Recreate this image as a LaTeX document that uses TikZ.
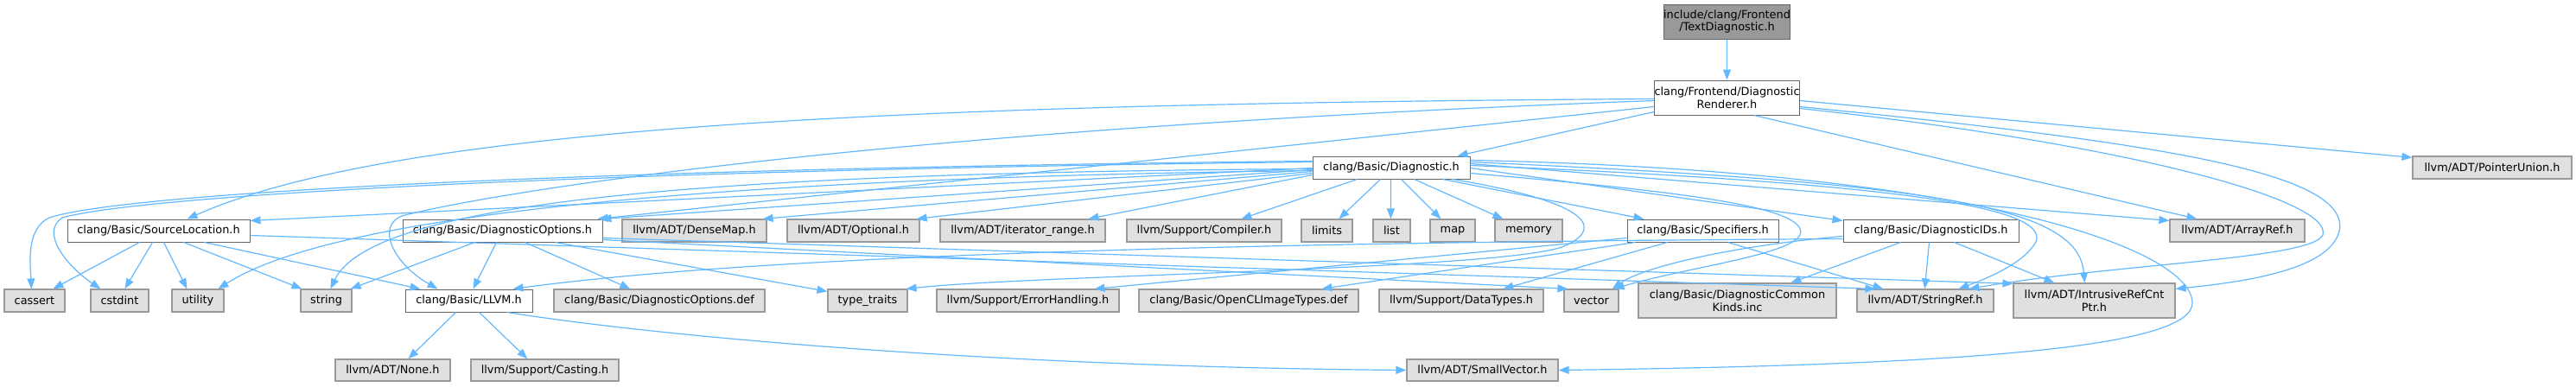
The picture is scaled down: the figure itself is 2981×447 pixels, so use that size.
\documentclass[tikz,border=0pt]{standalone}
\usepackage{fontspec}
\setmainfont{DejaVu Sans}
\usetikzlibrary{arrows.meta}
\definecolor{edgec}{HTML}{63B8FF}
\definecolor{boxg}{HTML}{E0E0E0}
\definecolor{bordg}{HTML}{999999}
\definecolor{bordd}{HTML}{666666}
\definecolor{topf}{HTML}{999999}
\tikzset{
 base/.style={rectangle, inner sep=0pt, line width=1pt, font=\fontsize{12.85}{14.7}\selectfont, align=center, text=black},
 ext/.style={base, draw=bordg, fill=boxg, line width=1.2pt},
 hdr/.style={base, draw=bordd, fill=white},
 topn/.style={base, draw=bordd, fill=topf},
 edge/.style={draw=edgec, line width=1.2pt, -{Triangle[length=12pt,width=9pt]}},
}
\newcommand\nd[7]{%
 \pgfmathsetmacro\ndw{#5-#3}\pgfmathsetmacro\ndh{#6-#4}%
 \pgfmathsetmacro\ndx{(#3+#5)/2}\pgfmathsetmacro\ndy{(#4+#6)/2}%
 \node[#2,minimum width=\ndw pt,minimum height=\ndh pt] (#1) at (\ndx,\ndy) {#7};}
\begin{document}
\begin{tikzpicture}[x=1pt,y=-1pt]
\useasboundingbox (0,0) rectangle (2981,447);
% nodes
\nd{td}{topn}{1935}{5}{2062}{45}{include/clang/Frontend\\/TextDiagnostic.h}
\nd{dr}{hdr}{1927}{93}{2070}{133}{clang/Frontend/Diagnostic\\Renderer.h}
\nd{diag}{hdr}{1519}{181}{1701}{207}{clang/Basic/Diagnostic.h}
\nd{pu}{ext}{2792}{181}{2976}{207}{llvm/ADT/PointerUnion.h}
\nd{sl}{hdr}{78}{254}{289}{280}{clang/Basic/SourceLocation.h}
\nd{dopt}{hdr}{466}{254}{697}{280}{clang/Basic/DiagnosticOptions.h}
\nd{dense}{ext}{720}{254}{887}{280}{llvm/ADT/DenseMap.h}
\nd{opt}{ext}{911}{254}{1064}{280}{llvm/ADT/Optional.h}
\nd{itr}{ext}{1088}{254}{1279}{280}{llvm/ADT/iterator\_range.h}
\nd{comp}{ext}{1304}{254}{1483}{280}{llvm/Support/Compiler.h}
\nd{lim}{ext}{1506}{254}{1565}{280}{limits}
\nd{lst}{ext}{1589}{254}{1632}{280}{list}
\nd{map}{ext}{1655}{254}{1707}{280}{map}
\nd{mem}{ext}{1730}{254}{1808}{280}{memory}
\nd{spec}{hdr}{1883}{254}{2058}{280}{clang/Basic/Specifiers.h}
\nd{dids}{hdr}{2133}{254}{2336}{280}{clang/Basic/DiagnosticIDs.h}
\nd{aref}{ext}{2511}{254}{2667}{280}{llvm/ADT/ArrayRef.h}
\nd{cas}{ext}{5}{335}{75}{361}{cassert}
\nd{cstd}{ext}{105}{335}{172}{361}{cstdint}
\nd{util}{ext}{199}{335}{259}{361}{utility}
\nd{str}{ext}{348}{335}{407}{361}{string}
\nd{llvm}{hdr}{469}{335}{616}{361}{clang/Basic/LLVM.h}
\nd{ddef}{ext}{641}{335}{885}{361}{clang/Basic/DiagnosticOptions.def}
\nd{tt}{ext}{958}{335}{1050}{361}{type\_traits}
\nd{err}{ext}{1084}{335}{1295}{361}{llvm/Support/ErrorHandling.h}
\nd{ocl}{ext}{1318}{335}{1572}{361}{clang/Basic/OpenCLImageTypes.def}
\nd{dt}{ext}{1596}{335}{1786}{361}{llvm/Support/DataTypes.h}
\nd{vec}{ext}{1810}{335}{1873}{361}{vector}
\nd{dck}{ext}{1896}{328}{2125}{368}{clang/Basic/DiagnosticCommon\\Kinds.inc}
\nd{sref}{ext}{2149}{335}{2307}{361}{llvm/ADT/StringRef.h}
\nd{irc}{ext}{2330}{328}{2517}{368}{llvm/ADT/IntrusiveRefCnt\\Ptr.h}
\nd{none}{ext}{388}{416}{521}{441}{llvm/ADT/None.h}
\nd{cast}{ext}{545}{416}{716}{441}{llvm/Support/Casting.h}
\nd{svec}{ext}{1628}{416}{1803}{441}{llvm/ADT/SmallVector.h}
% edges
\draw[edge] (td.south) -- (dr.north);
\draw[edge] ([yshift=-37pt]dr.north west) -- ([xshift=168pt]diag.north west);
\draw[edge] ([yshift=-22pt]dr.north west) .. controls (1000,120) and (450,150) .. ([xshift=139pt]sl.north west);
\draw[edge] ([yshift=-31pt]dr.north west) -- ([xshift=-6pt]dopt.north east);
\draw[edge] ([yshift=-24pt]dr.north west) .. controls (1000,150) and (560,225) .. (465,250) .. controls (435,262) and (455,305) .. ([xshift=38pt]llvm.north west);
\draw[edge] ([xshift=116pt]dr.south west) -- ([xshift=32pt]aref.north west);
\draw[edge] ([yshift=-24pt]dr.north east) -- ([yshift=-2pt]pu.north west);
\draw[edge] ([yshift=-31pt]dr.north east) .. controls (2500,165) and (2722,200) .. (2707,268) .. controls (2695,312) and (2600,326) .. ([yshift=-7pt]irc.north east);
\draw[edge] ([yshift=-33pt]dr.north east) .. controls (2450,165) and (2700,230) .. (2688,272) .. controls (2676,300) and (2450,305) .. ([xshift=130pt]sref.north west);
% Diagnostic.h
\draw[edge] ([yshift=-6pt]diag.north west) .. controls (700,195) and (150,222) .. (57,252) .. controls (30,265) and (35,305) .. ([xshift=32pt]cas.north west);
\draw[edge] ([yshift=-7pt]diag.north west) .. controls (700,197) and (170,225) .. (72,252) .. controls (45,270) and (80,310) .. ([xshift=12pt]cstd.north west);
\draw[edge] ([yshift=-14pt]diag.north west) -- ([yshift=-2pt]sl.north east);
\draw[edge] ([yshift=-17pt]diag.north west) .. controls (900,205) and (400,240) .. ([xshift=54pt]util.north west);
\draw[edge] ([yshift=-15pt]diag.north west) .. controls (800,200) and (430,235) .. ([xshift=35pt]str.north west);
\draw[edge] ([yshift=-16pt]diag.north west) -- ([xshift=-2pt]dopt.north east);
\draw[edge] ([yshift=-18pt]diag.north west) -- ([xshift=-5pt]dense.north east);
\draw[edge] ([yshift=-20pt]diag.north west) -- ([xshift=-4pt]opt.north east);
\draw[edge] ([yshift=-22pt]diag.north west) -- ([xshift=172pt]itr.north west);
\draw[edge] ([xshift=52pt]diag.south west) -- ([xshift=133pt]comp.north west);
\draw[edge] ([xshift=79pt]diag.south west) -- ([xshift=44pt]lim.north west);
\draw[edge] ([xshift=91pt]diag.south west) -- ([xshift=21pt]lst.north west);
\draw[edge] ([xshift=103pt]diag.south west) -- ([xshift=13pt]map.north west);
\draw[edge] ([xshift=118pt]diag.south west) -- ([xshift=10pt]mem.north west);
\draw[edge] ([xshift=151pt]diag.south west) -- ([xshift=20pt]spec.north west);
\draw[edge] ([xshift=162pt]diag.south west) .. controls (1830,232) and (1862,262) .. (1810,285) .. controls (1745,312) and (1200,318) .. ([xshift=-2pt]tt.north east);
\draw[edge] ([yshift=-20pt]diag.north east) .. controls (1950,222) and (2095,240) .. (2083,272) .. controls (2072,295) and (1950,310) .. ([xshift=-6pt]vec.north east);
\draw[edge] ([yshift=-14pt]diag.north east) -- ([yshift=-2pt]dids.north west);
\draw[edge] ([yshift=-9pt]diag.north east) -- ([yshift=-2pt]aref.north west);
\draw[edge] ([yshift=-7pt]diag.north east) .. controls (2250,212) and (2405,240) .. ([xshift=83pt]irc.north west);
\draw[edge] ([yshift=-11pt]diag.north east) .. controls (2200,212) and (2372,240) .. (2356,280) .. controls (2342,305) and (2300,322) .. ([xshift=118pt]sref.north west);
\draw[edge] ([yshift=-5pt]diag.north east) .. controls (2300,198) and (2535,290) .. (2537,350) .. controls (2539,400) and (2300,422) .. (svec.east);
% SourceLocation.h
\draw[edge] ([xshift=84pt]sl.south west) -- ([xshift=57pt]cas.north west);
\draw[edge] ([xshift=99pt]sl.south west) -- ([xshift=40pt]cstd.north west);
\draw[edge] ([xshift=112pt]sl.south west) -- ([xshift=18pt]util.north west);
\draw[edge] ([xshift=135pt]sl.south west) -- ([xshift=2pt]str.north west);
\draw[edge] ([xshift=159pt]sl.south west) -- ([xshift=18pt]llvm.north west);
\draw[edge] ([yshift=-19pt]sl.north east) -- ([xshift=22pt]sref.north west);
% DiagnosticOptions.h
\draw[edge] ([xshift=84pt]dopt.south west) -- ([xshift=-2pt]str.north east);
\draw[edge] ([xshift=109pt]dopt.south west) -- ([xshift=79pt]llvm.north west);
\draw[edge] ([xshift=142pt]dopt.south west) -- ([xshift=89pt]ddef.north west);
\draw[edge] ([xshift=177pt]dopt.south west) -- ([yshift=-3pt]tt.north west);
\draw[edge] ([yshift=-24pt]dopt.north east) -- ([xshift=5pt]vec.north west);
\draw[edge] ([yshift=-22pt]dopt.north east) -- ([yshift=-1pt]irc.north west);
% LLVM.h
\draw[edge] ([xshift=59pt]llvm.south west) -- ([xshift=85pt]none.north west);
\draw[edge] ([xshift=86pt]llvm.south west) -- ([xshift=66pt]cast.north west);
\draw[edge] ([xshift=118pt]llvm.south west) .. controls (800,395) and (1200,425) .. (svec.west);
% Specifiers.h
\draw[edge] ([yshift=-22pt]spec.north west) -- ([xshift=183pt]err.north west);
\draw[edge] ([xshift=10pt]spec.south west) -- ([xshift=212pt]ocl.north west);
\draw[edge] ([xshift=47pt]spec.south west) -- ([xshift=144pt]dt.north west);
\draw[edge] ([xshift=117pt]spec.south west) -- ([xshift=31pt]sref.north west);
% DiagnosticIDs.h
\draw[edge] ([xshift=67pt]dids.south west) -- ([xshift=177pt]dck.north west);
\draw[edge] ([xshift=100pt]dids.south west) -- ([xshift=79pt]sref.north west);
\draw[edge] ([xshift=129pt]dids.south west) -- ([xshift=48pt]irc.north west);
\draw[edge] ([yshift=-23pt]dids.north west) .. controls (1500,280) and (900,293) .. ([xshift=-23pt]llvm.north east);
\draw[edge] ([yshift=-20pt]dids.north west) .. controls (2000,285) and (1900,310) .. ([xshift=-8pt]vec.north east);
\end{tikzpicture}
\end{document}
